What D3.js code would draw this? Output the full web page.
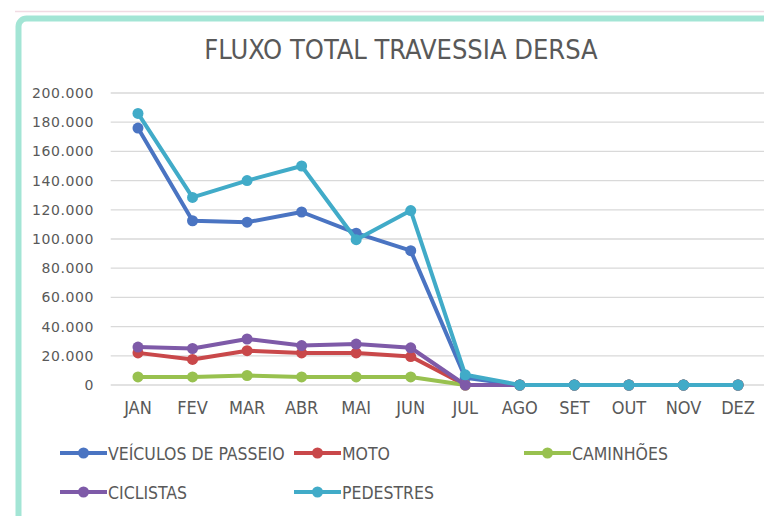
<!DOCTYPE html>
<html>
<head>
<meta charset="utf-8">
<script src="https://cdn.jsdelivr.net/npm/d3@7"></script>
<style>
  body { margin: 0; background: #fff; }
  svg { display: block; }
  .narrow { font-family: "Liberation Sans Narrow", "DejaVu Sans Condensed", sans-serif; fill: #595959; }
</style>
</head>
<body>
<div id="chart"></div>
<script>
// months on the x axis
var months = ["JAN", "FEV", "MAR", "ABR", "MAI", "JUN", "JUL", "AGO", "SET", "OUT", "NOV", "DEZ"];

// values
var veiculos = [176000, 112500, 111500, 118500, 104000, 92000, 5000, 0, 0, 0, 0, 0];
var moto = [22000, 17500, 23500, 22000, 22000, 19500, 0, 0, 0, 0, 0, 0];
var caminhoes = [5500, 5500, 6500, 5500, 5500, 5500, 0, 0, 0, 0, 0, 0];
var ciclistas = [26000, 25000, 31500, 27000, 28000, 25500, 0, 0, 0, 0, 0, 0];
var pedestres = [186000, 128500, 140000, 150000, 99500, 119500, 7000, 0, 0, 0, 0, 0];

var yTicks = [0, 20000, 40000, 60000, 80000, 100000, 120000, 140000, 160000, 180000, 200000];

var series = [
    { name: "VEÍCULOS DE PASSEIO", values: veiculos, color: "#4a74c2" },
    { name: "MOTO", values: moto, color: "#c9484a" },
    { name: "CAMINHÕES", values: caminhoes, color: "#98c14f" },
    { name: "CICLISTAS", values: ciclistas, color: "#7e5aa8" },
    { name: "PEDESTRES", values: pedestres, color: "#41abc8" }
];

var W = 764, H = 516;
var svg = d3.select("#chart").append("svg")
    .attr("width", W)
    .attr("height", H);

// faint sheet line above the chart frame
svg.append("line")
    .attr("x1", 15).attr("x2", W)
    .attr("y1", 11.5).attr("y2", 11.5)
    .attr("stroke", "#f1dbe3")
    .attr("stroke-width", 1.5);

// chart frame (only top and left edges are visible)
svg.append("rect")
    .attr("x", 18.5).attr("y", 18.5)
    .attr("width", 820).attr("height", 600)
    .attr("rx", 8)
    .attr("fill", "#fff")
    .attr("stroke", "#a3e5d5")
    .attr("stroke-width", 6);

// scales
var x = d3.scaleBand()
    .domain(months)
    .range([110.7, 110.7 + 54.55 * 12]);

var y = d3.scaleLinear()
    .domain([0, 200000])
    .range([385, 93]);

var locale = d3.formatLocale({ decimal: ",", thousands: ".", grouping: [3], currency: ["", ""] });
var fmt = locale.format(",.0f");

// gridlines
svg.append("g")
    .selectAll("line")
    .data(yTicks)
    .enter().append("line")
    .attr("x1", x.range()[0])
    .attr("x2", x.range()[1])
    .attr("y1", d => y(d))
    .attr("y2", d => y(d))
    .attr("stroke", "#d9d9d9")
    .attr("stroke-width", 1.3);

// y axis labels
var yAxis = svg.append("g")
    .attr("transform", "translate(100,0)")
    .call(d3.axisLeft(y).tickValues(yTicks).tickFormat(fmt).tickSize(0).tickPadding(6));
yAxis.select(".domain").remove();
yAxis.selectAll("text")
    .style("font-family", "'DejaVu Sans', sans-serif")
    .style("font-size", "14px")
    .style("letter-spacing", "0.6px")
    .attr("fill", "#595959");

// x axis labels
var xAxis = svg.append("g")
    .attr("transform", "translate(0,395)")
    .call(d3.axisBottom(x).tickSize(0).tickPadding(6));
xAxis.select(".domain").remove();
xAxis.selectAll("text")
    .attr("class", "narrow")
    .style("font-size", "18px")
    .attr("fill", "#595959");

// lines and markers
var line = d3.line()
    .x((d, i) => x(months[i]) + x.bandwidth() / 2)
    .y(d => y(d));

var groups = svg.selectAll(".series")
    .data(series)
    .enter().append("g")
    .attr("class", "series");

groups.append("path")
    .attr("d", d => line(d.values))
    .attr("fill", "none")
    .attr("stroke", d => d.color)
    .attr("stroke-width", 4)
    .attr("stroke-linejoin", "round");

groups.selectAll("circle")
    .data(d => d.values.map(v => ({ v: v, color: d.color })))
    .enter().append("circle")
    .attr("cx", (d, i) => x(months[i]) + x.bandwidth() / 2)
    .attr("cy", d => y(d.v))
    .attr("r", 5.5)
    .attr("fill", d => d.color);

// title
svg.append("text")
    .attr("class", "narrow")
    .attr("x", 401)
    .attr("y", 59)
    .attr("text-anchor", "middle")
    .style("font-size", "27px")
    .text("FLUXO TOTAL TRAVESSIA DERSA");

// legend
var legendPos = [[60, 453], [294, 453], [524, 453], [60, 492], [294, 492]];
var legend = svg.selectAll(".legend")
    .data(series)
    .enter().append("g")
    .attr("class", "legend")
    .attr("transform", (d, i) => "translate(" + legendPos[i][0] + "," + legendPos[i][1] + ")");

legend.append("line")
    .attr("x1", 0).attr("x2", 47)
    .attr("y1", 0).attr("y2", 0)
    .attr("stroke", d => d.color)
    .attr("stroke-width", 4);

legend.append("circle")
    .attr("cx", 23.5).attr("cy", 0)
    .attr("r", 5.5)
    .attr("fill", d => d.color);

legend.append("text")
    .attr("class", "narrow")
    .attr("x", 48)
    .attr("y", 6.5)
    .style("font-size", "17.5px")
    .text(d => d.name);
</script>
</body>
</html>
